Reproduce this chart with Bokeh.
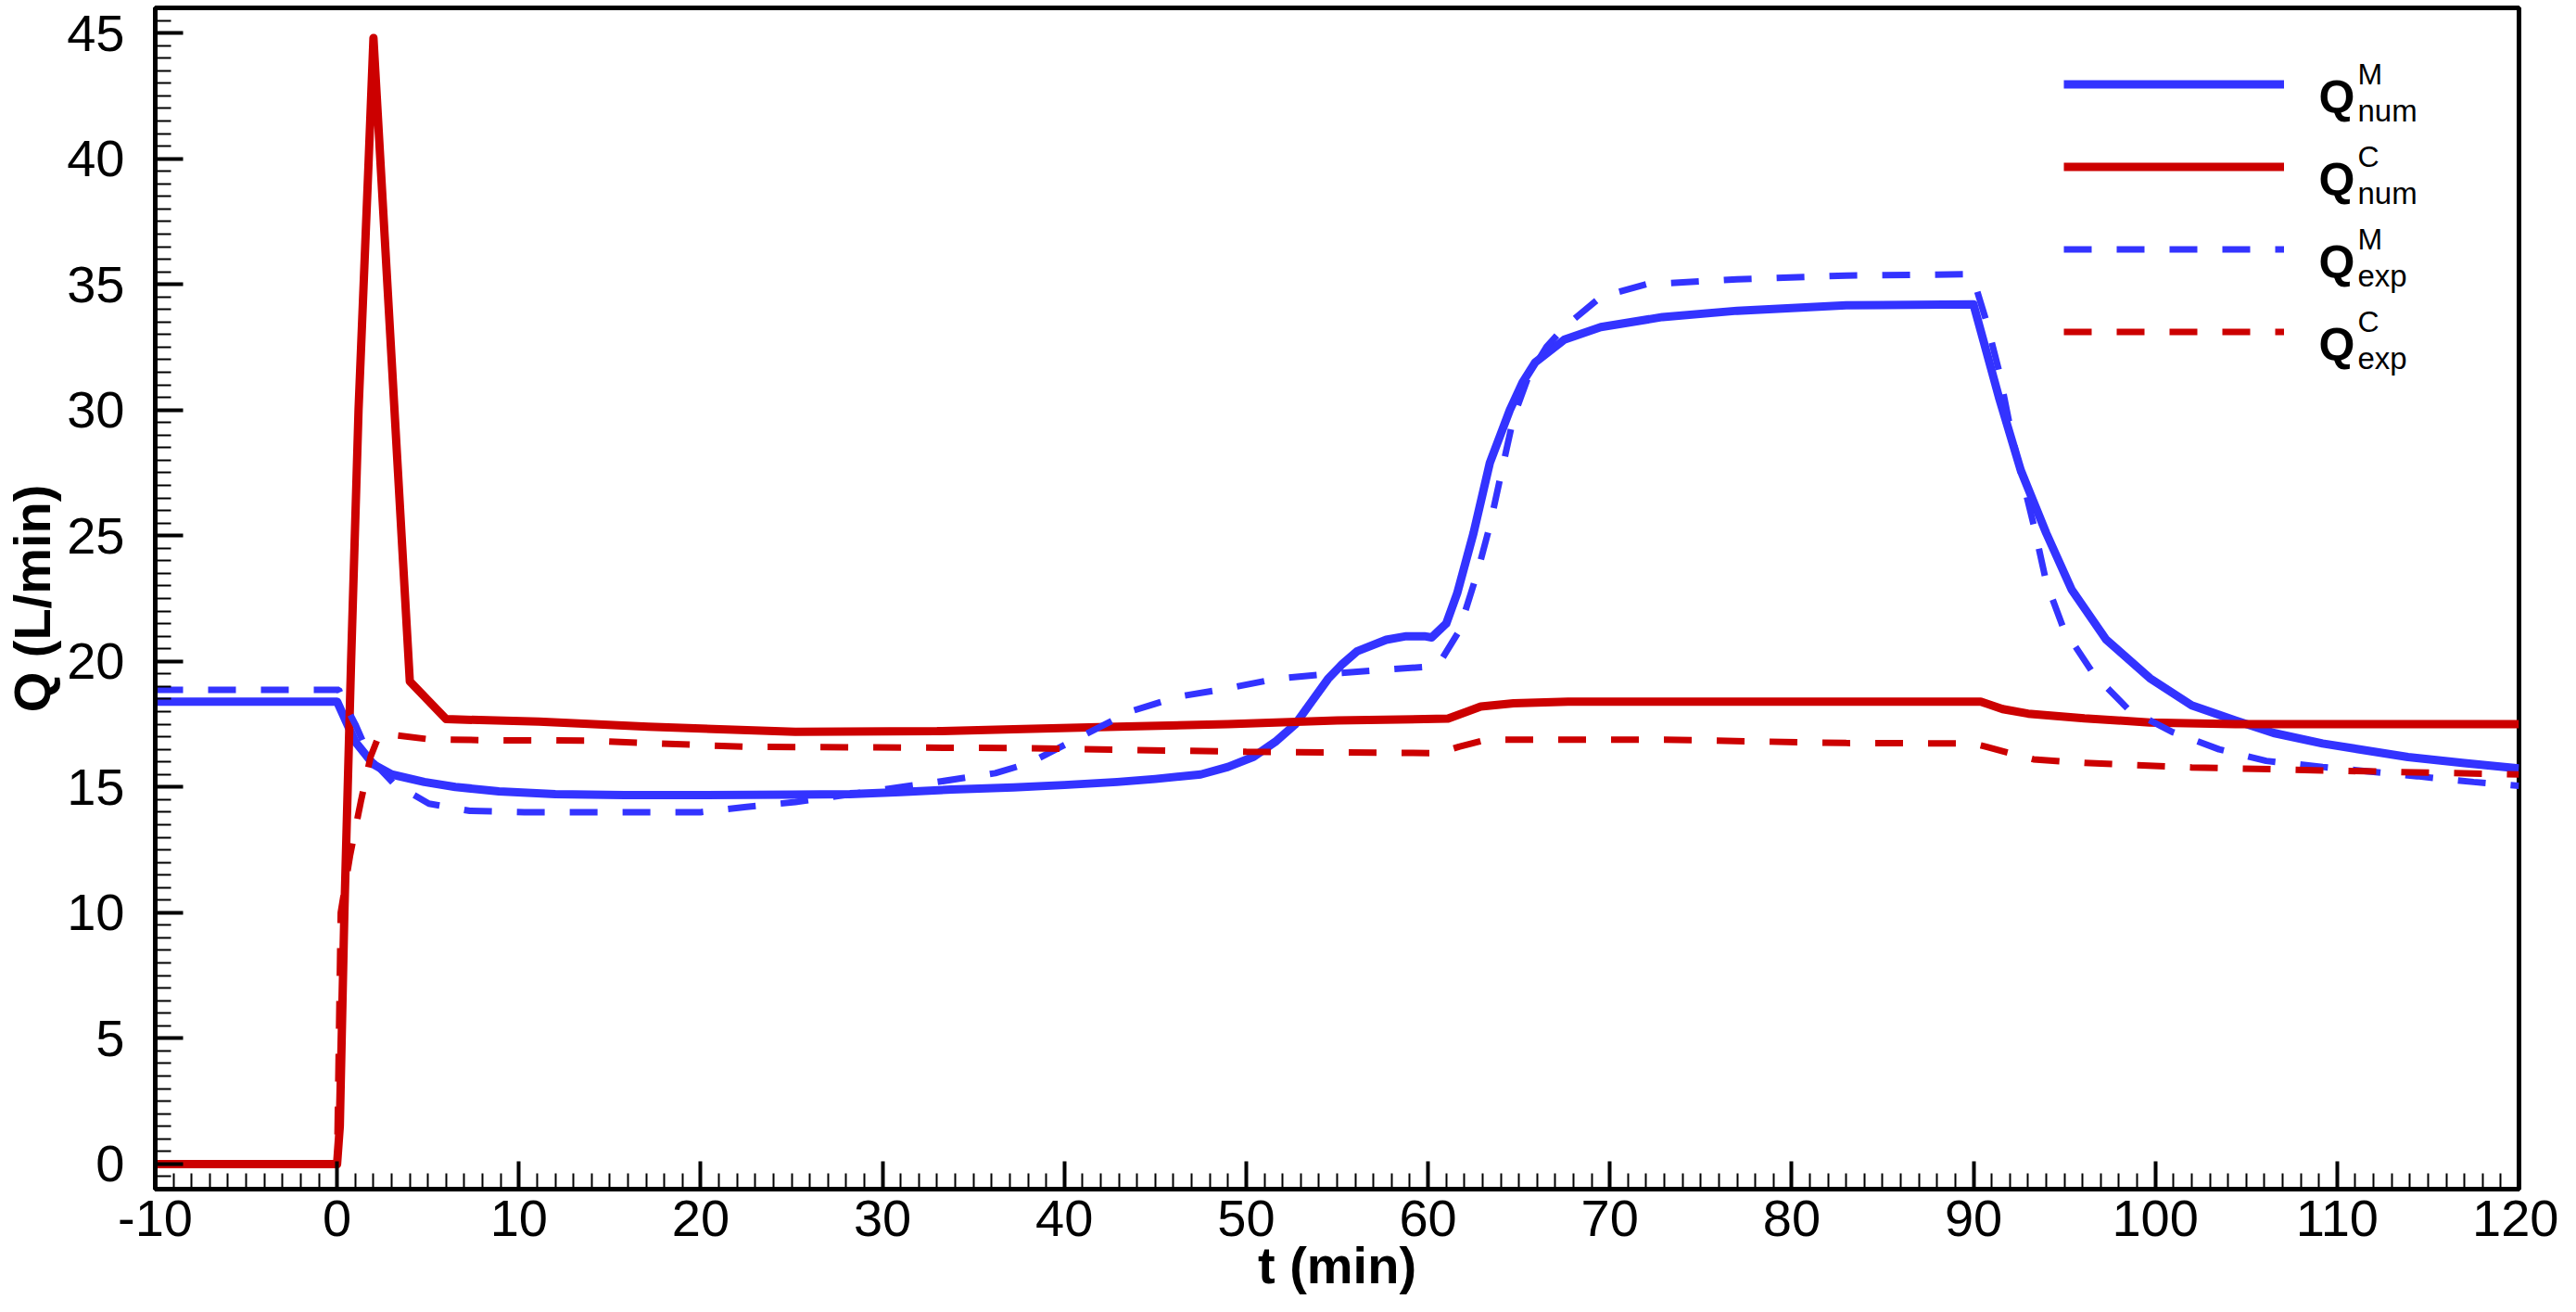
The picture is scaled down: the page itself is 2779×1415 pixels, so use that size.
from bokeh.plotting import figure
from bokeh.models import Range1d, SingleIntervalTicker, Legend, LegendItem, Label
from bokeh.embed import file_html
from bokeh.resources import INLINE

# ---- data ----
t_num_M = [-10, 0, 0.5, 1.0, 2.0, 3.0, 4.8, 6.5, 8.9, 12, 15.8, 20, 25, 28.2, 31, 33.8, 37.2,
           40, 42.9, 45, 47.5, 49, 50.4, 51.6, 52.7, 53.6, 54.5, 55.3, 56.1, 57.7, 58.8, 59.8,
           60.2, 61.0, 61.6, 62.5, 63.4, 64.5, 65.2, 65.9, 67.5, 69.5, 72.9, 77, 83, 90.0,
           91.4, 92.6, 94.0, 95.4, 97.3, 99.7, 102.0, 104.4, 106.5, 109.2, 113.9, 117, 120]
Q_num_M = [18.4, 18.4, 17.6, 16.8, 15.9, 15.5, 15.2, 15.0, 14.83, 14.72, 14.68, 14.68, 14.7,
           14.72, 14.8, 14.9, 14.98, 15.08, 15.2, 15.32, 15.5, 15.8, 16.2, 16.8, 17.5, 18.4,
           19.3, 19.9, 20.4, 20.86, 21.0, 21.0, 20.95, 21.5, 22.7, 25.1, 27.9, 30.0, 31.1,
           31.9, 32.8, 33.3, 33.7, 33.95, 34.17, 34.2, 30.5, 27.6, 25.1, 22.85, 20.86, 19.33,
           18.25, 17.65, 17.15, 16.73, 16.19, 15.95, 15.74]

t_num_C = [-10, 0, 0.15, 0.4, 0.77, 1.18, 1.74, 2.0, 4.0, 6.0, 11.1, 17.1, 25.2, 33, 37.2,
           42.9, 49, 55, 61.1, 62.9, 64.7, 67.7, 90.4, 91.6, 93, 96.1, 99.7, 104.4, 120]
Q_num_C = [0, 0, 1.5, 10, 20, 30, 40, 44.8, 19.2, 17.7, 17.6, 17.4, 17.2, 17.22, 17.3,
           17.4, 17.5, 17.65, 17.72, 18.2, 18.33, 18.4, 18.4, 18.1, 17.92, 17.73, 17.57,
           17.5, 17.5]

t_exp_M = [-10, 0.1, 0.5, 1.0, 1.85, 3.1, 5.05, 7.3, 10.3, 20, 22.4, 25.2, 30, 33, 36.2,
           38.1, 39, 40.9, 43.6, 46.3, 48.8, 51.6, 54.5, 57.3, 60.2, 60.6, 61.7, 62.7, 63.4,
           64.0, 64.7, 65.5, 66.5, 67.5, 69.5, 72, 77, 83, 89.5, 90.0, 90.7, 91.4, 92.1,
           93.3, 94.0, 94.95, 96.6, 98.5, 100.9, 103.5, 106.1, 109.2, 114.4, 117.5, 120]
Q_exp_M = [18.87, 18.87, 18.2, 17.5, 16.1, 15.15, 14.34, 14.05, 14.0, 14.0, 14.2, 14.4,
           14.9, 15.2, 15.55, 15.96, 16.3, 17.0, 18.0, 18.6, 18.9, 19.3, 19.5, 19.65, 19.8,
           19.9, 21.2, 23.5, 25.4, 27.4, 29.7, 31.3, 32.5, 33.3, 34.5, 35.0, 35.2, 35.35,
           35.4, 35.2, 33.55, 31.56, 29.0, 25.45, 23.15, 21.3, 19.5, 18.1, 17.2, 16.5,
           16.04, 15.8, 15.43, 15.2, 15.05]

t_exp_C = [-10, 0, 0.1, 0.2, 0.72, 1.3, 1.6, 1.84, 2.3, 2.8, 5.05, 8.4, 13.6, 22.4, 37.3,
           50, 60.6, 61.7, 63.2, 73, 83, 90, 90.7, 93.3, 96.1, 102, 109.2, 120]
Q_exp_C = [0, 0, 5, 10, 12.3, 14.4, 15.4, 16.2, 17.05, 17.1, 16.9, 16.86, 16.85, 16.6,
           16.55, 16.4, 16.35, 16.6, 16.88, 16.88, 16.75, 16.73, 16.6, 16.1, 15.96, 15.78,
           15.66, 15.5]

legend_sup = ["M", "C", "M", "C"]
legend_sub = ["num", "num", "exp", "exp"]
x_title = "t (min)"
y_title = "Q (L/min)"

BLUE = "#3333ff"
RED = "#cc0000"
FONT = "Liberation Sans"

W, H = 2760, 1399
BL, BR, BT, BB = 165, 43, 8, 117
FH = H - BT - BB

p = figure(width=W, height=H, output_backend="svg", toolbar_location=None,
           x_range=Range1d(-10, 120), y_range=Range1d(-1, 46),
           min_border_left=BL, min_border_right=BR, min_border_top=BT, min_border_bottom=BB)
p.grid.visible = False
p.outline_line_color = "black"
p.outline_line_width = 5
p.outline_line_alpha = 1.0

for ax in (p.xaxis[0], p.yaxis[0]):
    ax.axis_line_width = 5
    ax.major_tick_in = 30
    ax.major_tick_out = 0
    ax.minor_tick_in = 17
    ax.minor_tick_out = 0
    ax.major_tick_line_width = 4
    ax.minor_tick_line_width = 2
    ax.major_label_text_font = FONT
    ax.major_label_text_font_size = "56px"
    ax.major_label_text_color = "black"
    ax.axis_label_text_font = FONT
    ax.axis_label_text_font_style = "bold"
    ax.axis_label_text_font_size = "56px"
    ax.axis_label_text_color = "black"

p.xaxis.ticker = SingleIntervalTicker(interval=10, num_minor_ticks=10)
p.yaxis.ticker = SingleIntervalTicker(interval=5, num_minor_ticks=10)
p.xaxis.major_label_overrides = {-10: "-10"}
p.xaxis.axis_label = x_title
p.yaxis.axis_label = y_title
p.xaxis.major_label_standoff = 12
p.xaxis.axis_label_standoff = -3
p.yaxis.major_label_standoff = 33
p.yaxis.axis_label_standoff = 3

r_nm = p.line(t_num_M, Q_num_M, line_color=BLUE, line_width=9, line_join="round")
r_nc = p.line(t_num_C, Q_num_C, line_color=RED, line_width=9, line_join="round")
r_em = p.line(t_exp_M, Q_exp_M, line_color=BLUE, line_width=7, line_dash="30 27")
r_ec = p.line(t_exp_C, Q_exp_C, line_color=RED, line_width=7, line_dash="30 27")

items = [LegendItem(label=" ", renderers=[r]) for r in (r_nm, r_nc, r_em, r_ec)]
ITEM_H = 89
LEG_X, LEG_Y = 2059, 880
leg = Legend(items=items, location=(LEG_X, LEG_Y), orientation="vertical",
             glyph_width=238, glyph_height=ITEM_H, label_height=ITEM_H, label_width=0,
             label_standoff=0, label_text_font_size="1px", spacing=0, padding=0, margin=0,
             border_line_alpha=0, background_fill_alpha=0)
p.add_layout(leg)

top = FH - LEG_Y - 4 * ITEM_H
for i in range(4):
    c = top + ITEM_H * i + ITEM_H / 2
    p.add_layout(Label(x=2334, y=FH - (c + 14), x_units="screen", y_units="screen",
                       text="Q", text_font=FONT, text_font_style="bold",
                       text_font_size="50px", text_baseline="alphabetic", text_color="black"))
    p.add_layout(Label(x=2376, y=FH - (c - 11), x_units="screen", y_units="screen",
                       text=legend_sup[i], text_font=FONT, text_font_size="32px",
                       text_baseline="alphabetic", text_color="black"))
    p.add_layout(Label(x=2376, y=FH - (c + 28), x_units="screen", y_units="screen",
                       text=legend_sub[i], text_font=FONT, text_font_size="33px",
                       text_baseline="alphabetic", text_color="black"))

open("out.html", "w").write(file_html(p, INLINE))
